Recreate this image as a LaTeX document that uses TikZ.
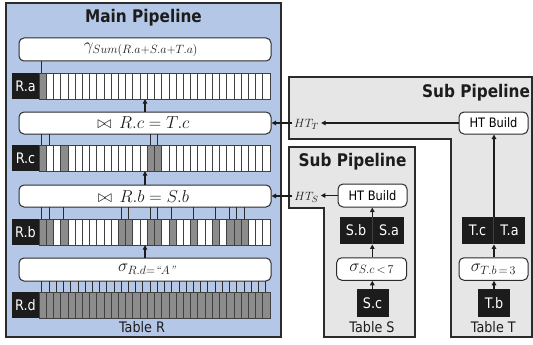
\documentclass[tikz,border=0pt]{standalone}
\usepackage[no-math]{fontspec}
\usepackage{amsmath}
\newfontfamily\dv{DejaVu Sans}[FakeStretch=0.88]
\newcommand\bigsub[2]{\mbox{\fontsize{#1}{#1}\selectfont$#2$}}
\usetikzlibrary{arrows.meta}
\definecolor{bluef}{HTML}{B4C7E7}
\definecolor{grayf}{HTML}{E7E6E6}
\definecolor{blackf}{HTML}{1C1C1C}
\definecolor{cellg}{HTML}{8C8C8C}
\definecolor{linec}{HTML}{2B2B2B}
\definecolor{celll}{HTML}{404040}
\begin{document}
\begin{tikzpicture}[x=1pt,y=-1pt,
  mainbox/.style={draw=linec, fill=bluef, line width=1.2pt},
  subbox/.style={draw=linec, fill=grayf, line width=1.2pt},
  opbox/.style={draw=linec, fill=white, rounded corners=5pt, line width=1pt, inner sep=0pt},
  lab/.style={fill=blackf, text=white, font=\dv\fontsize{14.5}{16}\selectfont, inner sep=0pt},
  title/.style={font=\dv\bfseries\fontsize{17.4}{20}\selectfont, text=blackf, inner sep=0pt},
  plain/.style={font=\dv\fontsize{14.5}{16}\selectfont, text=blackf, inner sep=0pt},
  mth/.style={font=\fontsize{16}{18}\selectfont, text=blackf, inner sep=0pt},
  strip/.style={inner sep=0pt, minimum width=231, minimum height=26},
  cellw/.style={draw=celll, fill=white, line width=0.7pt},
  cellgr/.style={draw=celll, fill=cellg, line width=0.7pt},
  tick/.style={draw=linec, line width=0.8pt},
  arr/.style={draw=blackf, line width=1.2pt, -{Triangle[length=4.5pt,width=4.5pt]}}
]
\useasboundingbox (0,0) rectangle (533,345);
% sub pipelines
\draw[subbox] (289,77) -- (532,77) -- (532,337) -- (451,337) -- (451,139) -- (289,139) -- cycle;
\draw[subbox] (289,147) -- (415,147) -- (415,337) -- (324,337) -- (324,208) -- (289,208) -- cycle;
% main pipeline
\node[mainbox, minimum width=275, minimum height=334, inner sep=0pt] (main) at (143.5,170) {};
\node[title] (mt) at (143.5,18) {Main Pipeline};
\node[title] (stT) at (476,93) {Sub Pipeline};
\node[title] (stS) at (352.5,162) {Sub Pipeline};

% operator boxes
\node[opbox, minimum width=252, minimum height=23] (gam) at (145,49.5) {};
\node[mth, font=\fontsize{17}{19}\selectfont] at (141,49.5) {$\gamma_{\bigsub{12.5}{Sum(R.a{+}S.a{+}T.a)}}$};
\node[opbox, minimum width=252, minimum height=22] (jc) at (145,123) {};
\node[mth] at (143.5,123) {$\mathord{\bowtie}\;\, R.c = T.c$};
\node[opbox, minimum width=252, minimum height=22] (jb) at (145,196) {};
\node[mth] at (143.5,196) {$\mathord{\bowtie}\;\, R.b = S.b$};
\node[opbox, minimum width=252, minimum height=23] (sg) at (145,269.5) {};
\node[mth, font=\fontsize{17}{19}\selectfont] at (147,269) {$\sigma_{\bigsub{12}{R.d{=}\text{\itshape``}A\text{\itshape''}}}$};

% rows
\foreach \yy/\nm/\lb/\gl in {73/ra/R.a/{0}, 145/rc/R.c/{0,3,15,16}, 219/rb/R.b/{0,1,3,11,12,15,16,18,21,24,26,27,28}, 292/rd/R.d/{0,...,31}}{
  \node[lab, minimum width=27, minimum height=26] (\nm l) at (25.5,\yy+13) {\lb};
  \foreach \k in {0,...,31} \draw[cellw] ({39+\k*7.21875},\yy) rectangle ++(7.21875,26);
  \foreach \k in \gl \draw[cellgr] ({39+\k*7.21875},\yy) rectangle ++(7.21875,26);
  \node[strip] (\nm) at (154.5,\yy+13) {};
}

% ticks
\foreach \k in {0} \draw[tick] ({38.2+(\k+0.5)*7.21875},61) -- ({38.2+(\k+0.5)*7.21875},73);
\foreach \k in {0,1,15,16} \draw[tick] ({38.2+(\k+0.5)*7.21875},134) -- ({38.2+(\k+0.5)*7.21875},145);
\foreach \k in {0,1,3,11,12,15,16,18,21,24,26,27,28} \draw[tick] ({38.2+(\k+0.5)*7.21875},207) -- ({38.2+(\k+0.5)*7.21875},219);
\foreach \k in {0,...,31} \draw[tick] ({38.2+(\k+0.5)*7.21875},281) -- ({38.2+(\k+0.5)*7.21875},292);

\node[plain] (tabR) at (142,327) {Table R};

% main arrows
\coordinate (ax) at (145,0);
\draw[arr] (sg.north -| ax) -- (rb.south -| ax);
\draw[arr] (jb.north -| ax) -- (rc.south -| ax);
\draw[arr] (jc.north -| ax) -- (ra.south -| ax);

% S column
\node[opbox, minimum width=69, minimum height=23, font=\dv\fontsize{13}{15}\selectfont] (htbS) at (372.5,195.5) {HT Build};
\node[fill=blackf, minimum width=64, minimum height=27.5, inner sep=0pt] (sab) at (372,230.5) {};
\draw[draw=celll, line width=0.6pt] (sab.north) -- (sab.south);
\node[lab] at (356,230.5) {S.b};
\node[lab] at (389,230.5) {S.a};
\node[opbox, minimum width=70, minimum height=22.5] (sgS) at (371.7,269) {};
\node[mth, font=\fontsize{16}{18}\selectfont] at (sgS) {$\sigma_{\bigsub{11.5}{S.c\,{<}\,7}}$};
\node[lab, minimum width=32, minimum height=28] (sc) at (372.5,303) {S.c};
\node[plain] (tabS) at (372,327) {Table S};
\coordinate (sx) at (372.3,0);
\draw[arr] (sc.north -| sx) -- (sgS.south -| sx);
\draw[arr] (sgS.north -| sx) -- (sab.south -| sx);
\draw[arr] (sab.north -| sx) -- (htbS.south -| sx);

% T column
\node[opbox, minimum width=69, minimum height=22, font=\dv\fontsize{13}{15}\selectfont] (htbT) at (493.5,123) {HT Build};
\node[fill=blackf, minimum width=63.3, minimum height=27.5, inner sep=0pt] (tca) at (493.3,230.5) {};
\draw[draw=celll, line width=0.6pt] (tca.north) -- (tca.south);
\node[lab] at (477.5,230.5) {T.c};
\node[lab] at (509.5,230.5) {T.a};
\node[opbox, minimum width=69, minimum height=22.5] (sgT) at (493.5,269) {};
\node[mth, font=\fontsize{16}{18}\selectfont] at (sgT) {$\sigma_{\bigsub{11.5}{T.b\,{=}\,3}}$};
\node[lab, minimum width=32, minimum height=28] (tb) at (494,303) {T.b};
\node[plain] (tabT) at (493.3,327) {Table T};
\coordinate (tx) at (494,0);
\draw[arr] (tb.north -| tx) -- (sgT.south -| tx);
\draw[arr] (sgT.north -| tx) -- (tca.south -| tx);
\draw[arr] (tca.north -| tx) -- (htbT.south -| tx);

% hash tables
\node[mth, font=\fontsize{13}{15}\selectfont] (htt) at (306.5,124) {$HT_T$};
\node[mth, font=\fontsize{13}{15}\selectfont] (hts) at (306.5,197) {$HT_S$};
\draw[arr] (htbT.west) -- ([xshift=2pt]htt.east |- htbT.west);
\draw[arr] ([xshift=-2pt]htt.west |- jc.east) -- (jc.east);
\draw[arr] (htbS.west) -- ([xshift=2pt]hts.east |- htbS.west);
\draw[arr] ([xshift=-2pt]hts.west |- jb.east) -- (jb.east);
\end{tikzpicture}
\end{document}
